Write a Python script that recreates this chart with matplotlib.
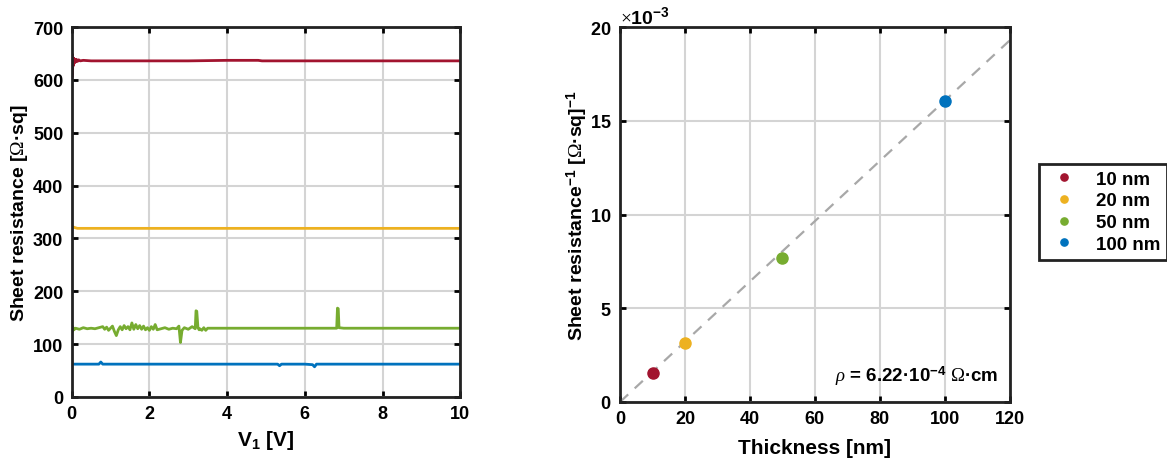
import matplotlib
matplotlib.use("Agg")
import matplotlib.pyplot as plt

plt.rcParams["font.family"] = ["Liberation Sans", "DejaVu Sans"]
plt.rcParams["font.weight"] = "bold"
plt.rcParams["axes.labelweight"] = "bold"
plt.rcParams["mathtext.fontset"] = "custom"
plt.rcParams["mathtext.rm"] = "Liberation Serif:weight=normal"
plt.rcParams["mathtext.it"] = "Liberation Serif:italic:weight=normal"
plt.rcParams["mathtext.bf"] = "Liberation Sans:bold"

# colours of the four films (MATLAB defaults)
colors = ["#A2142F", "#EDB120", "#77AC30", "#0072BD"]
labels = ["10 nm", "20 nm", "50 nm", "100 nm"]

# sheet resistance vs V1
v_red = [0, 0.004, 0.008, 0.012, 0.016, 0.02, 0.025, 0.03, 0.035, 0.04, 0.05, 0.06, 0.07, 0.08, 0.1, 0.12, 0.15,
         0.18, 0.22, 0.3, 0.5, 1, 2, 3, 4, 4.5, 4.8, 4.9, 6, 7, 8, 9, 10]
r_red = [600, 650, 605, 648, 612, 645, 620, 643, 626, 641, 630, 640, 632, 639, 634, 639, 635, 638, 636, 637,
         636, 636, 636, 636, 637, 637, 637, 636, 636, 636, 636, 636, 636]

v_yel = [0, 0.03, 0.06, 0.1, 0.15, 0.25, 1, 2, 3, 4, 5, 6, 7, 8, 9, 10]
r_yel = [318, 322, 321, 320, 319, 319, 319, 319, 319, 319, 319, 319, 319, 319, 319, 319]

v_grn = [0, 0.01, 0.02, 0.04, 0.06, 0.1, 0.2, 0.3, 0.4, 0.5, 0.6, 0.7, 0.8, 0.85, 0.9, 0.95, 1.0, 1.05, 1.1, 1.15,
         1.2, 1.25, 1.3, 1.35, 1.4, 1.45, 1.5, 1.55, 1.6, 1.65, 1.7, 1.75, 1.8, 1.85, 1.9, 1.95, 2.0, 2.05, 2.1,
         2.15, 2.2, 2.3, 2.4, 2.5, 2.6, 2.7, 2.76, 2.8, 2.84, 2.9, 3.0, 3.1, 3.18, 3.2, 3.22, 3.25, 3.28, 3.3,
         3.35, 3.4, 3.45, 3.5, 4, 5, 6, 6.82, 6.84, 6.86, 6.88, 7, 8, 9, 10]
r_grn = [112, 135, 124, 131, 127, 130, 128, 131, 129, 130, 129, 131, 133, 128, 132, 126, 130, 134, 124, 116,
         127, 133, 127, 135, 129, 133, 127, 140, 128, 137, 129, 135, 128, 134, 127, 131, 126, 133, 128,
         137, 127, 129, 131, 128, 130, 129, 134, 103, 126, 131, 128, 133, 129, 163, 162, 131, 127, 129,
         126, 131, 126, 130, 130, 130, 130, 130, 168, 167, 131, 130, 130, 130, 130]

v_blu = [0, 0.5, 0.7, 0.75, 0.8, 1, 2, 3, 4, 5, 5.3, 5.35, 5.4, 6, 6.2, 6.25, 6.3, 7, 8, 9, 10]
r_blu = [62, 62, 62, 66, 62, 62, 62, 62, 62, 62, 62, 59, 62, 62, 61, 57, 62, 62, 62, 62, 62]

# inverse sheet resistance vs film thickness
thickness = [10, 20, 50, 100]
conductance = [1.57e-3, 3.14e-3, 7.7e-3, 16.05e-3]
rho = 6.22e-4  # Ohm cm, from the fit

fig = plt.figure(figsize=(11.67, 4.6), dpi=100)
ax1 = fig.add_axes([0.0614, 0.135, 0.333, 0.804])
ax2 = fig.add_axes([0.5313, 0.124, 0.334, 0.815])

for v, r, c in zip([v_red, v_yel, v_grn, v_blu], [r_red, r_yel, r_grn, r_blu], colors):
    ax1.plot(v, r, color=c, lw=2)
ax1.set_xlim(0, 10)
ax1.set_ylim(0, 700)
ax1.set_xticks([0, 2, 4, 6, 8, 10])
ax1.set_yticks(range(0, 701, 100))
ax1.set_xlabel(r"V$_{\mathbf{1}}$ [V]", fontsize=15, labelpad=4)
ax1.set_ylabel(r"Sheet resistance [$\mathrm{\Omega}$·sq]", fontsize=14, labelpad=2)

fit_x = [0, 120]
fit_y = [x * 1e-7 / rho for x in fit_x]
ax2.plot(fit_x, fit_y, color="#a8a8a8", lw=1.6, ls=(0, (5, 4)), zorder=2)
for t, g, c, lab in zip(thickness, conductance, colors, labels):
    ax2.plot(t, g, "o", color=c, ms=8, label=lab, zorder=3)
ax2.set_xlim(0, 120)
ax2.set_ylim(0, 0.02)
ax2.set_xticks(range(0, 121, 20))
ax2.set_yticks([0, 0.005, 0.01, 0.015, 0.02])
ax2.ticklabel_format(axis="y", style="sci", scilimits=(-3, -3), useMathText=True)
ax2.yaxis.get_offset_text().set_fontsize(14)
ax2.yaxis.get_offset_text().set_fontweight("bold")
ax2.set_xlabel("Thickness [nm]", fontsize=15, labelpad=8)
ax2.set_ylabel(r"Sheet resistance$^{\mathbf{-1}}$ [$\mathrm{\Omega}$·sq]$^{\mathbf{-1}}$", fontsize=14, labelpad=0)
ax2.text(116.5, 1.4e-3, r"$\rho$ = 6.22·10$^{\mathbf{-4}}$ $\mathrm{\Omega}$·cm", fontsize=13.5,
         ha="right", va="center")

leg = ax2.legend(loc="upper left", bbox_to_anchor=(1.074, 0.635), fontsize=13.5, markerscale=0.65,
                 handlelength=2.0, handletextpad=0.7, borderpad=0.35, labelspacing=0.25,
                 fancybox=False, framealpha=1, borderaxespad=0)
leg.get_frame().set_edgecolor("#222222")
leg.get_frame().set_linewidth(2)

for ax in (ax1, ax2):
    ax.grid(True, color="#d4d4d4", lw=1.5)
    ax.set_axisbelow(True)
    for s in ax.spines.values():
        s.set_linewidth(2)
        s.set_color("#222222")
    ax.tick_params(direction="in", top=True, right=True, length=4, width=2, labelsize=13, pad=6)

fig.savefig("out.png", dpi=100)
